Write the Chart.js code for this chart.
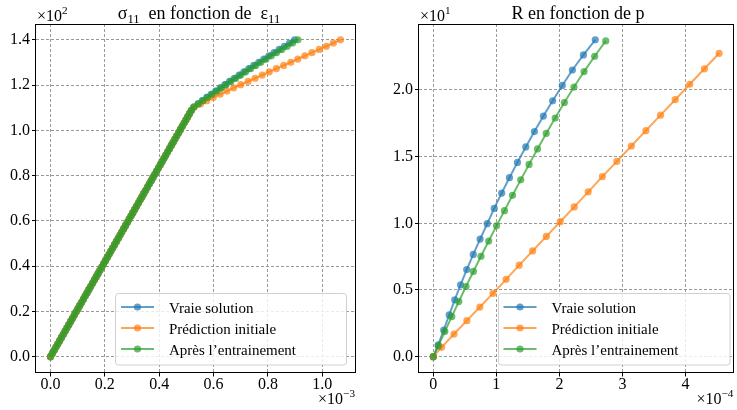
<!DOCTYPE html>
<html>
<head>
<meta charset="utf-8">
<script src="https://cdn.jsdelivr.net/npm/chart.js@4.4.1/dist/chart.umd.min.js"></script>
<style>
  html, body { margin: 0; padding: 0; background: #fff; }
  #wrap { position: relative; width: 737px; height: 410px; }
  canvas { position: absolute; left: 0; top: 0; }
</style>
</head>
<body>
<div id="wrap">
  <canvas id="stress" width="737" height="410"></canvas>
  <canvas id="hardening" width="737" height="410"></canvas>
</div>
<script>
const SERIF = '"Liberation Serif", "DejaVu Serif", serif';

// --- sigma_11 vs eps_11 (stress in MPa, strain in 1e-3) ---
const sigma = [
  0.00, 1.41, 2.83, 4.24, 5.66, 7.07, 8.48, 9.90, 11.31, 12.73,
  14.14, 15.56, 16.97, 18.38, 19.80, 21.21, 22.63, 24.04, 25.45, 26.87,
  28.28, 29.70, 31.11, 32.53, 33.94, 35.35, 36.77, 38.18, 39.60, 41.01,
  42.42, 43.84, 45.25, 46.67, 48.08, 49.49, 50.91, 52.32, 53.74, 55.15,
  56.57, 57.98, 59.39, 60.81, 62.22, 63.64, 65.05, 66.46, 67.88, 69.29,
  70.71, 72.12, 73.54, 74.95, 76.36, 77.78, 79.19, 80.61, 82.02, 83.43,
  84.85, 86.26, 87.68, 89.09, 90.51, 91.92, 93.33, 94.75, 96.16, 97.58,
  98.99, 100.40, 101.82, 103.23, 104.65, 106.06, 107.47, 108.89, 110.30, 111.72,
  113.13, 114.55, 115.96, 117.37, 118.79, 120.20, 121.62, 123.03, 124.44, 125.86,
  127.27, 128.69, 130.10, 131.52, 132.93, 134.34, 135.76, 137.17, 138.59, 140.00
];
// elastic branch, identical for the three curves
const strainElastic = [
  0.0000, 0.0067, 0.0135, 0.0202, 0.0269, 0.0337, 0.0404, 0.0471, 0.0539, 0.0606,
  0.0673, 0.0741, 0.0808, 0.0875, 0.0943, 0.1010, 0.1077, 0.1145, 0.1212, 0.1279,
  0.1347, 0.1414, 0.1481, 0.1549, 0.1616, 0.1684, 0.1751, 0.1818, 0.1886, 0.1953,
  0.2020, 0.2088, 0.2155, 0.2222, 0.2290, 0.2357, 0.2424, 0.2492, 0.2559, 0.2626,
  0.2694, 0.2761, 0.2828, 0.2896, 0.2963, 0.3030, 0.3098, 0.3165, 0.3232, 0.3300,
  0.3367, 0.3434, 0.3502, 0.3569, 0.3636, 0.3704, 0.3771, 0.3838, 0.3906, 0.3973,
  0.4040, 0.4108, 0.4175, 0.4242, 0.4310, 0.4377, 0.4444, 0.4512, 0.4579, 0.4646,
  0.4714, 0.4781, 0.4848, 0.4916, 0.4983, 0.5051, 0.5118, 0.5185
];
// plastic branches
const strainTrue = [
  0.5271, 0.5428, 0.5588, 0.5750, 0.5914, 0.6080, 0.6248, 0.6418, 0.6590, 0.6764, 0.6940,
  0.7118, 0.7298, 0.7480, 0.7664, 0.7850, 0.8038, 0.8227, 0.8416, 0.8605, 0.8794, 0.8983
];
const strainInit = [
  0.529, 0.552, 0.575, 0.599, 0.624, 0.649, 0.674, 0.700, 0.727, 0.753, 0.779,
  0.805, 0.831, 0.858, 0.884, 0.910, 0.936, 0.962, 0.989, 1.015, 1.041, 1.067
];
const strainTrained = [
  0.5275, 0.5440, 0.5605, 0.5772, 0.5941, 0.6112, 0.6285, 0.6460, 0.6637, 0.6816, 0.6997,
  0.7180, 0.7365, 0.7552, 0.7741, 0.7932, 0.8125, 0.8319, 0.8514, 0.8710, 0.8907, 0.9105
];

// --- R vs p (p in 1e-4) ---
const pTrue = [0, 0.078, 0.165, 0.252, 0.340, 0.432, 0.530, 0.634, 0.742, 0.855, 0.966,
  1.084, 1.207, 1.334, 1.466, 1.603, 1.745, 1.892, 2.045, 2.205, 2.380, 2.568];
const rTrue = [0, 0.88, 2.00, 3.13, 4.26, 5.39, 6.53, 7.67, 8.82, 9.97, 11.12,
  12.27, 13.42, 14.57, 15.73, 16.88, 18.04, 19.19, 20.34, 21.50, 22.63, 23.76];
const pInit = [0, 0.131, 0.328, 0.532, 0.738, 0.946, 1.155, 1.362, 1.575, 1.792, 2.012,
  2.234, 2.456, 2.680, 2.910, 3.140, 3.370, 3.602, 3.835, 4.065, 4.298, 4.531];
const rInit = [0, 0.70, 1.70, 2.70, 3.72, 4.75, 5.80, 6.86, 7.93, 9.02, 10.12,
  11.23, 12.36, 13.50, 14.65, 15.80, 16.95, 18.11, 19.27, 20.43, 21.59, 22.75];
const pTrained = [0, 0.078, 0.183, 0.293, 0.404, 0.518, 0.636, 0.756, 0.878, 1.002, 1.128,
  1.256, 1.386, 1.518, 1.652, 1.790, 1.932, 2.078, 2.230, 2.390, 2.558, 2.734];
const rTrained = [0, 0.80, 1.88, 3.00, 4.13, 5.26, 6.39, 7.53, 8.67, 9.81, 10.95,
  12.10, 13.26, 14.42, 15.58, 16.74, 17.90, 19.06, 20.22, 21.38, 22.53, 23.68];

const seriesNames = ['Vraie solution', 'Prédiction initiale', 'Après l’entrainement'];
const seriesColors = ['rgba(31,119,180,0.7)', 'rgba(255,127,14,0.7)', 'rgba(44,160,44,0.7)'];

const sigmaTicks = [0, 20, 40, 60, 80, 100, 120, 140];
const strainTicks = [0, 0.2, 0.4, 0.6, 0.8, 1.0];
const rTicks = [0, 5, 10, 15, 20];
const pTicks = [0, 1, 2, 3, 4];

function pairs(xs, ys) {
  return xs.map((x, i) => ({ x: x, y: ys[i] }));
}

function series(i, data) {
  const c = seriesColors[i];
  return {
    label: seriesNames[i],
    data: data,
    borderColor: c,
    backgroundColor: c,
    pointBackgroundColor: c,
    borderWidth: 2,
    pointRadius: 3.6,
    pointHoverRadius: 3.6,
    pointBorderWidth: 0,
    // matplotlib puts the last plotted curve on top
    order: 2 - i
  };
}

function axis(min, max, ticks, fmt, horizontal, size, pad) {
  return {
    type: 'linear',
    min: min,
    max: max,
    afterBuildTicks: a => { a.ticks = ticks.map(v => ({ value: v })); },
    afterFit: a => { if (horizontal) a.height = size; else a.width = size; },
    grid: { color: '#9a9a9a', lineWidth: 1, tickColor: '#000', tickLength: 4, tickBorderDash: [] },
    border: { display: false, dash: [3, 2] },
    ticks: {
      color: '#000',
      font: { family: SERIF, size: 16, lineHeight: 1 },
      padding: pad,
      autoSkip: false,
      maxRotation: 0,
      callback: fmt
    }
  };
}

function drawRich(ctx, parts, x, y, align, size) {
  const fonts = parts.map(p => (p.sub || p.sup ? size * 0.7 : size) + 'px ' + SERIF);
  let total = 0;
  const widths = parts.map((p, i) => {
    ctx.font = fonts[i];
    const w = ctx.measureText(p.t).width;
    total += w;
    return w;
  });
  let cx = align === 'center' ? x - total / 2 : align === 'right' ? x - total : x;
  ctx.textAlign = 'left';
  ctx.textBaseline = 'alphabetic';
  ctx.fillStyle = '#000';
  parts.forEach((p, i) => {
    ctx.font = fonts[i];
    const dy = p.sub ? size * 0.22 : p.sup ? -size * 0.42 : 0;
    ctx.fillText(p.t, cx, y + dy);
    cx += widths[i];
  });
}

const decor = {
  id: 'decor',
  afterDatasetsDraw(chart, args, o) {
    const ctx = chart.ctx;
    const a = chart.chartArea;
    ctx.save();

    // axes frame
    ctx.strokeStyle = '#000';
    ctx.lineWidth = 1;
    ctx.strokeRect(Math.round(a.left) - 0.5, Math.round(a.top) + 0.5,
      Math.round(a.right - a.left) + 1, Math.round(a.bottom - a.top) - 1);

    // legend
    const L = o.legend;
    ctx.beginPath();
    ctx.roundRect(L.x, L.y, L.w, L.h, 3);
    ctx.fillStyle = 'rgba(255,255,255,0.8)';
    ctx.fill();
    ctx.strokeStyle = 'rgba(204,204,204,0.9)';
    ctx.stroke();
    chart.data.datasets.forEach((ds, i) => {
      const y = L.rows[i];
      ctx.strokeStyle = ds.borderColor;
      ctx.lineWidth = 2;
      ctx.beginPath();
      ctx.moveTo(L.hx0, y);
      ctx.lineTo(L.hx1, y);
      ctx.stroke();
      ctx.fillStyle = ds.borderColor;
      ctx.beginPath();
      ctx.arc((L.hx0 + L.hx1) / 2, y, 3.6, 0, Math.PI * 2);
      ctx.fill();
      ctx.fillStyle = '#000';
      ctx.font = '15px ' + SERIF;
      ctx.textAlign = 'left';
      ctx.textBaseline = 'alphabetic';
      ctx.fillText(ds.label, L.tx, y + 5.5);
    });

    // title and offset texts
    drawRich(ctx, o.title, o.titleX, 19, 'center', 18);
    drawRich(ctx, o.yMult, a.left + 1, 21, 'left', 16);
    drawRich(ctx, o.xMult, a.right, 404, 'right', 16);
    ctx.restore();
  }
};

function baseOptions(padding, xAxis, yAxis, decorCfg) {
  return {
    responsive: false,
    animation: false,
    devicePixelRatio: 1,
    layout: { padding: padding },
    events: [],
    plugins: {
      legend: { display: false },
      tooltip: { enabled: false },
      decor: decorCfg
    },
    scales: { x: xAxis, y: yAxis }
  };
}

new Chart(document.getElementById('stress'), {
  type: 'line',
  data: {
    datasets: [
      series(0, pairs(strainElastic.concat(strainTrue), sigma)),
      series(1, pairs(strainElastic.concat(strainInit), sigma)),
      series(2, pairs(strainElastic.concat(strainTrained), sigma))
    ]
  },
  options: baseOptions(
    { top: 24, right: 382, bottom: 0, left: 0 },
    axis(-0.0534, 1.1204, strainTicks, v => v.toFixed(1), true, 37.5, 0),
    axis(-7, 147, sigmaTicks, v => (v / 100).toFixed(1), false, 36, 2),
    {
      titleX: 199,
      title: [{ t: 'σ' }, { t: '11', sub: true }, { t: '  en fonction de  ' }, { t: 'ε' }, { t: '11', sub: true }],
      yMult: [{ t: '×10' }, { t: '2', sup: true }],
      xMult: [{ t: '×10' }, { t: '−3', sup: true }],
      legend: { x: 115.5, y: 293.5, w: 231, h: 71.5, rows: [307, 328, 349], hx0: 121, hx1: 154, tx: 169 }
    }
  ),
  plugins: [decor]
});

new Chart(document.getElementById('hardening'), {
  type: 'line',
  data: {
    datasets: [
      series(0, pairs(pTrue, rTrue)),
      series(1, pairs(pInit, rInit)),
      series(2, pairs(pTrained, rTrained))
    ]
  },
  options: baseOptions(
    { top: 24, right: 1, bottom: 0, left: 370 },
    axis(-0.2266, 4.7576, pTicks, v => v.toFixed(0), true, 37.5, 0),
    axis(-1.188, 24.948, rTicks, v => (v / 10).toFixed(1), false, 49, 2),
    {
      titleX: 578,
      title: [{ t: 'R en fonction de p' }],
      yMult: [{ t: '×10' }, { t: '1', sup: true }],
      xMult: [{ t: '×10' }, { t: '−4', sup: true }],
      legend: { x: 498.5, y: 293.5, w: 231.5, h: 71.5, rows: [307, 328, 349], hx0: 503.5, hx1: 536.5, tx: 551.5 }
    }
  ),
  plugins: [decor]
});
</script>
</body>
</html>
